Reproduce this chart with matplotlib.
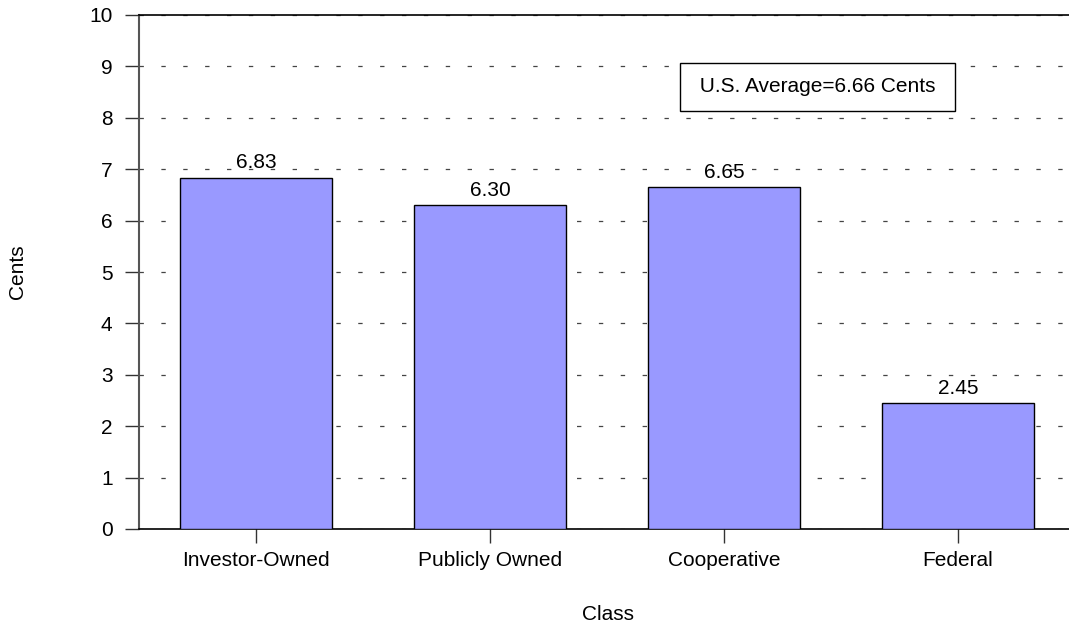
import numpy as np
import matplotlib.pyplot as plt

plt.rcParams['font.family'] = ['Liberation Sans', 'DejaVu Sans']

# data
categories = ['Investor-Owned', 'Publicly Owned', 'Cooperative', 'Federal']
cents = [6.83, 6.30, 6.65, 2.45]
value_labels = ['6.83', '6.30', '6.65', '2.45']
yticks = list(range(0, 11))

fig = plt.figure(figsize=(10.69, 6.25), dpi=100)
ax = fig.add_axes([139 / 1069, 1 - 529 / 625, 936 / 1069, 514 / 625])

fs = 15

x = np.arange(len(categories))
ax.bar(x, cents, width=0.65, color='#9999ff', edgecolor='black',
       linewidth=1, zorder=3)

for xi, v, lab in zip(x, cents, value_labels):
    ax.annotate(lab, (xi, v), xytext=(0, 4), textcoords='offset points',
                ha='center', va='bottom', fontsize=fs, zorder=4)

ax.set_xlim(-0.5, 3.5)
ax.set_ylim(0, 10)
ax.set_yticks(yticks)
ax.set_xticks(x)
ax.set_xticklabels(categories)

ax.yaxis.grid(True, linestyle=(0, (3.5, 14)), color='#444444', linewidth=0.9,
              zorder=0)
ax.set_axisbelow(True)

ax.spines['right'].set_visible(False)
ax.spines['left'].set_color('#555555')
ax.spines['left'].set_linewidth(1.5)
ax.spines['top'].set_linewidth(1.2)
ax.spines['bottom'].set_linewidth(1.2)

ax.tick_params(axis='y', length=10, width=1, color='#333333', labelsize=fs,
               pad=9)
ax.tick_params(axis='x', length=10, width=1, color='#333333', labelsize=fs,
               pad=6)

ax.set_ylabel('Cents', fontsize=fs)
ax.yaxis.set_label_coords(18 / 1069, 1 - 272 / 625, transform=fig.transFigure)
ax.yaxis.label.set_va('center')
ax.set_xlabel('Class', fontsize=fs)
ax.xaxis.set_label_coords(608 / 1069, 1 - 614 / 625, transform=fig.transFigure)
ax.xaxis.label.set_va('center')

# average note box
ax.text(2.4, 8.6, ' U.S. Average=6.66 Cents ', ha='center', va='center',
        fontsize=fs, zorder=5,
        bbox=dict(boxstyle='square,pad=0.68', facecolor='white',
                  edgecolor='black', linewidth=1))

fig.savefig('out.png', dpi=100)
